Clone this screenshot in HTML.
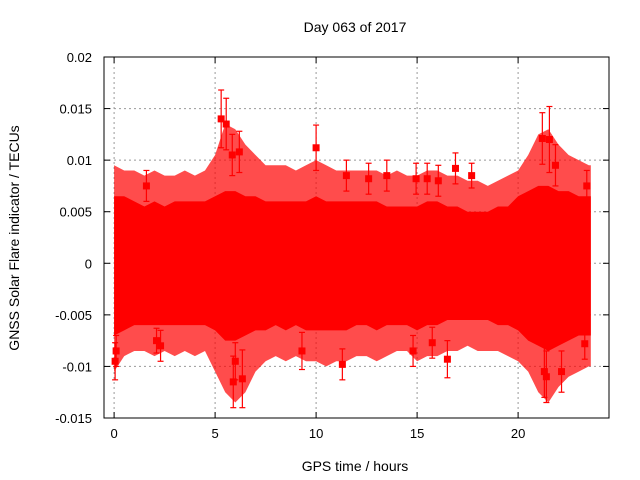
<!DOCTYPE html>
<html><head><meta charset="utf-8"><style>
body{margin:0;background:#fff;}
svg{display:block;font-family:"Liberation Sans",sans-serif;}
</style></head><body>
<svg id="chart" width="640" height="480" viewBox="0 0 640 480" xmlns="http://www.w3.org/2000/svg">
<rect width="640" height="480" fill="#fff"/>
<g id="grid"></g>
<g id="band"></g>
<g id="marks"></g>
<g id="axes"></g>
<text x="355" y="32" font-size="14" text-anchor="middle">Day 063 of 2017</text>
<text x="355" y="471" font-size="14" text-anchor="middle">GPS time / hours</text>
<text transform="translate(19,238) rotate(-90)" font-size="14" text-anchor="middle">GNSS Solar Flare indicator / TECUs</text>
</svg>
<script>
// envelope samples (hours)
const hours=[0,0.5,1,1.5,2,2.5,3,3.5,4,4.5,5,5.5,6,6.5,7,7.5,8,8.5,9,9.5,10,10.5,11,11.5,12,12.5,13,13.5,14,14.5,15,15.5,16,16.5,17,17.5,18,18.5,19,19.5,20,20.5,21,21.5,22,22.5,23,23.5];
// error-bar envelope top / bottom
const barTop=[0.0095,0.009,0.009,0.0085,0.009,0.0085,0.0085,0.009,0.0085,0.009,0.0105,0.0135,0.013,0.0115,0.0105,0.0095,0.0095,0.0095,0.009,0.0095,0.01,0.0095,0.009,0.009,0.009,0.009,0.009,0.0085,0.009,0.0085,0.0085,0.009,0.009,0.0085,0.0085,0.008,0.008,0.0075,0.008,0.0085,0.009,0.0105,0.0125,0.013,0.0115,0.0105,0.01,0.0095];
const barBottom=[-0.0105,-0.009,-0.0085,-0.0085,-0.009,-0.0085,-0.009,-0.0085,-0.009,-0.0085,-0.0105,-0.0125,-0.0135,-0.0125,-0.0105,-0.0095,-0.009,-0.0095,-0.009,-0.0095,-0.0095,-0.01,-0.0095,-0.0095,-0.009,-0.009,-0.0095,-0.009,-0.0085,-0.0085,-0.0095,-0.009,-0.009,-0.0085,-0.0085,-0.008,-0.0085,-0.0085,-0.0085,-0.009,-0.0095,-0.0105,-0.0125,-0.0135,-0.012,-0.011,-0.0105,-0.01];
// dense core of points
const coreTop=[0.0065,0.0065,0.006,0.0055,0.006,0.0055,0.006,0.006,0.006,0.006,0.0065,0.007,0.007,0.0065,0.0065,0.006,0.006,0.006,0.006,0.006,0.0065,0.006,0.006,0.006,0.006,0.006,0.006,0.0055,0.0055,0.0055,0.0055,0.006,0.006,0.0055,0.0055,0.005,0.005,0.005,0.0055,0.0055,0.0065,0.007,0.0075,0.0075,0.007,0.007,0.0065,0.0065];
const coreBottom=[-0.007,-0.0065,-0.006,-0.006,-0.006,-0.006,-0.006,-0.006,-0.006,-0.006,-0.0065,-0.0075,-0.0075,-0.007,-0.0065,-0.0065,-0.006,-0.0065,-0.006,-0.0065,-0.0065,-0.0065,-0.0065,-0.0065,-0.006,-0.006,-0.0065,-0.006,-0.006,-0.006,-0.0065,-0.006,-0.006,-0.0055,-0.0055,-0.0055,-0.0055,-0.0055,-0.006,-0.006,-0.0065,-0.0075,-0.008,-0.0085,-0.008,-0.0075,-0.007,-0.007];
// isolated outlier points: time, value, error
const outT=[0.05,0.1,1.6,2.1,2.3,5.3,5.55,5.85,6.2,5.9,6.0,6.35,10.0,9.3,11.3,11.5,12.6,13.5,14.8,14.95,15.5,15.75,16.5,16.05,16.9,17.7,21.2,21.55,21.85,21.4,21.3,22.15,23.3,23.4];
const outV=[-0.0095,-0.0085,0.0075,-0.0075,-0.008,0.014,0.0135,0.0105,0.0108,-0.0115,-0.0095,-0.0112,0.0112,-0.0085,-0.0098,0.0085,0.0082,0.0085,-0.0085,0.0082,0.0082,-0.0077,-0.0093,0.008,0.0092,0.0085,0.0121,0.012,0.0095,-0.011,-0.0105,-0.0105,-0.0078,0.0075];
const outE=[0.0018,0.0015,0.0015,0.0012,0.0015,0.0028,0.0025,0.002,0.002,0.0025,0.0018,0.0028,0.0022,0.0018,0.0015,0.0015,0.0015,0.0015,0.0015,0.0015,0.0015,0.0015,0.0018,0.0015,0.0015,0.0012,0.0025,0.0032,0.002,0.0025,0.0025,0.002,0.0015,0.0015];
const xTicks=[0,5,10,15,20];
const yTicks=[-0.015,-0.01,-0.005,0,0.005,0.01,0.015,0.02];
const yLabels=["-0.015","-0.01","-0.005","0","0.005","0.01","0.015","0.02"];

const L=104,R=609,T=57,B=418;
const xMin=-0.5,xMax=24.5,yMin=-0.015,yMax=0.02;
const X=v=>L+(v-xMin)/(xMax-xMin)*(R-L);
const Y=v=>B-(v-yMin)/(yMax-yMin)*(B-T);
const NS="http://www.w3.org/2000/svg";
function mk(tag,parent,attrs){const e=document.createElementNS(NS,tag);for(const k in attrs)e.setAttribute(k,attrs[k]);parent.appendChild(e);return e;}
const grid=document.getElementById('grid'),band=document.getElementById('band'),marks=document.getElementById('marks'),axes=document.getElementById('axes');

xTicks.forEach(t=>{
  const g=mk('line',grid,{x1:X(t),x2:X(t),y1:T,y2:B,stroke:'#999','stroke-dasharray':'2,3'});
  
  
  const tx=mk('text',axes,{x:X(t),y:B+20,'font-size':13,'text-anchor':'middle'});
  tx.textContent=t;
  
  
  mk('line',axes,{x1:X(t),x2:X(t),y1:B,y2:B-6,stroke:'#000'});
  mk('line',axes,{x1:X(t),x2:X(t),y1:T,y2:T+6,stroke:'#000'});
});
yTicks.forEach((t,i)=>{
  const g=mk('line',grid,{x1:L,x2:R,y1:Y(t),y2:Y(t),stroke:'#999','stroke-dasharray':'2,3'});
  
  
  const tx=mk('text',axes,{x:L-12,y:Y(t)+5,'font-size':13,'text-anchor':'end'});
  tx.textContent=yLabels[i];
  
  
  mk('line',axes,{x1:L,x2:L+6,y1:Y(t),y2:Y(t),stroke:'#000'});
  mk('line',axes,{x1:R,x2:R-6,y1:Y(t),y2:Y(t),stroke:'#000'});
});
const frame=mk('rect',axes,{x:L,y:T,width:R-L,height:B-T,fill:'none',stroke:'#000'});



function poly(top,bot,fill,op,name){
  let pts=[];
  const tEnd=23.6;
  hours.forEach((h,i)=>pts.push(X(h)+','+Y(top[i])));
  pts.push(X(tEnd)+','+Y(top[top.length-1]));
  pts.push(X(tEnd)+','+Y(bot[bot.length-1]));
  for(let i=hours.length-1;i>=0;i--)pts.push(X(hours[i])+','+Y(bot[i]));
  const p=mk('polygon',band,{points:pts.join(' '),fill:fill,'fill-opacity':op});
  
  
}
poly(barTop,barBottom,'#ff0000',0.7,'error-bar-envelope');
poly(coreTop,coreBottom,'#ff0000',1,'data-core');

outT.forEach((t,i)=>{
  const x=X(t),y=Y(outV[i]),y1=Y(outV[i]+outE[i]),y2=Y(outV[i]-outE[i]);
  const g=mk('g',marks,{});
  
  
  mk('line',g,{x1:x,x2:x,y1:y1,y2:y2,stroke:'#f00','stroke-width':1.2});
  mk('line',g,{x1:x-3,x2:x+3,y1:y1,y2:y1,stroke:'#f00','stroke-width':1.2});
  mk('line',g,{x1:x-3,x2:x+3,y1:y2,y2:y2,stroke:'#f00','stroke-width':1.2});
  mk('rect',g,{x:x-3.5,y:y-3.5,width:7,height:7,fill:'#f00'});
});
</script>
</body></html>
